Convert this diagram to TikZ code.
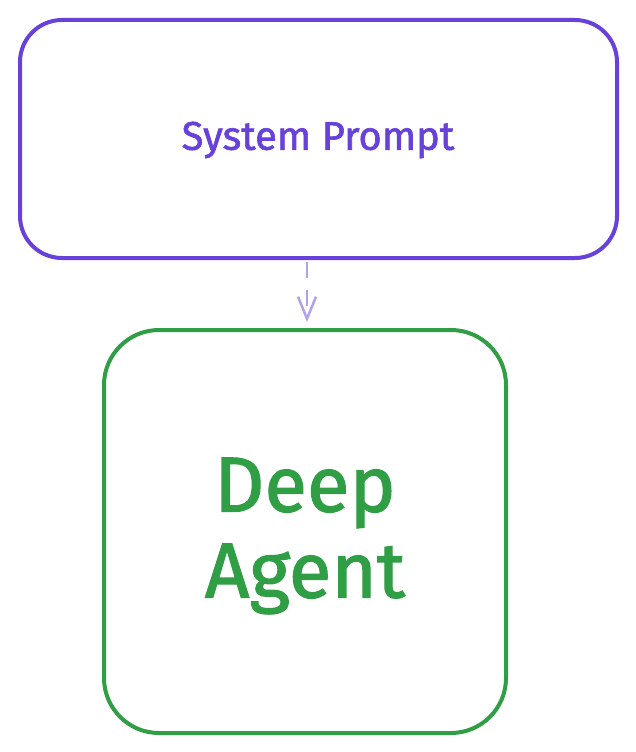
\documentclass[tikz,border=0pt]{standalone}
\usepackage{fontspec}
\setmainfont{Fira Sans}
\usetikzlibrary{arrows.meta}
\definecolor{violet}{HTML}{6741D9}
\definecolor{agentgreen}{HTML}{2F9E44}
\tikzset{
  box/.style={draw, line width=4pt, rounded corners=#1},
  lbl/.style={align=center, inner sep=0pt},
}
\begin{document}
\begin{tikzpicture}[x=1pt, y=-1pt]
\useasboundingbox (0,0) rectangle (636,752);
\draw[box=42pt, violet] (20,20) rectangle (617,258);
\node[lbl, text=violet, font=\fontsize{40}{44}\selectfont\addfontfeatures{FakeBold=1.5}] (sp) at (318,140) {System Prompt};
\coordinate (spb) at (307,262);
\draw[box=55pt, agentgreen] (104,330) rectangle (506,733);
\node[lbl, text=agentgreen, font=\fontsize{78}{86}\selectfont\addfontfeatures{FakeBold=1.5}] (da) at (305,536) {Deep\\Agent};
\coordinate (dat) at (307,322);
\draw[violet!50, line width=2.5pt, dash pattern=on 16pt off 12pt, -{Straight Barb[length=22pt, width=18pt, line width=2.5pt]}] (spb) -- (dat);
\end{tikzpicture}
\end{document}
